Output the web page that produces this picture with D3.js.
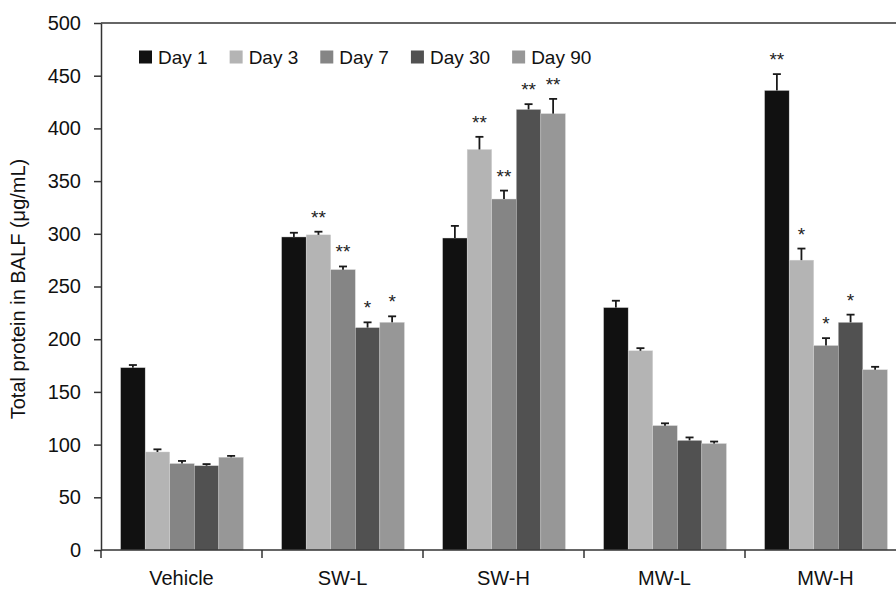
<!DOCTYPE html>
<html>
<head>
<meta charset="utf-8">
<script src="https://cdn.jsdelivr.net/npm/d3@7"></script>
<style>
  html, body { margin: 0; padding: 0; background: #fff; }
  svg { display: block; font-family: "Liberation Sans", Arial, sans-serif; }
</style>
</head>
<body>
<svg id="chart" width="896" height="590"></svg>
<script>
// Groups along the x axis and the sampling days (one series each)
const categories = ["Vehicle", "SW-L", "SW-H", "MW-L", "MW-H"];
const seriesNames = ["Day 1", "Day 3", "Day 7", "Day 30", "Day 90"];
const seriesColors = ["#111111", "#b4b4b4", "#858585", "#515151", "#979797"];

// Mean total protein (µg/mL) per group, one array per day
const day1  = [173, 297, 296, 230, 436];
const day3  = [93, 299, 380, 189, 275];
const day7  = [82, 266, 333, 118, 194];
const day30 = [80, 211, 418, 104, 216];
const day90 = [88, 216, 414, 101, 171];

// Standard errors (upper whisker only)
const err1  = [2.5, 4, 11.5, 6.5, 15.5];
const err3  = [2.5, 3, 12, 2.5, 11];
const err7  = [2.5, 3, 8, 2.2, 7];
const err30 = [1.5, 5, 5, 2.8, 7.3];
const err90 = [1.3, 5.7, 14, 1.9, 2.8];

// Significance markers versus vehicle
const sig1  = ["", "", "", "", "**"];
const sig3  = ["", "**", "**", "", "*"];
const sig7  = ["", "**", "**", "", "*"];
const sig30 = ["", "*", "**", "", "*"];
const sig90 = ["", "*", "**", "", ""];

const yTicks = [0, 50, 100, 150, 200, 250, 300, 350, 400, 450, 500];
const yTitle = "Total protein in BALF (μg/mL)";

const values = [day1, day3, day7, day30, day90];
const errors = [err1, err3, err7, err30, err90];
const sigs = [sig1, sig3, sig7, sig30, sig90];

const svg = d3.select("#chart");
const plotLeft = 101, plotTop = 23, plotBottom = 550, bandW = 161;

const x0 = d3.scaleBand().domain(categories)
  .range([plotLeft, plotLeft + bandW * categories.length]).padding(0);
const x1 = d3.scaleBand().domain(seriesNames)
  .range([19.6, bandW - 18.6]).padding(0);
const y = d3.scaleLinear().domain([0, 500]).range([plotBottom, plotTop]);

const axisColor = "#333";

// Bars
const rows = [];
categories.forEach((c, ci) => {
  seriesNames.forEach((s, si) => {
    rows.push({ cat: c, series: s, si, v: values[si][ci], e: errors[si][ci], sig: sigs[si][ci] });
  });
});

const g = svg.append("g");
g.selectAll("rect.bar").data(rows).enter().append("rect")
  .attr("class", "bar")
  .attr("x", d => x0(d.cat) + x1(d.series))
  .attr("width", x1.bandwidth())
  .attr("y", d => y(d.v))
  .attr("height", d => y(0) - y(d.v))
  .attr("fill", d => seriesColors[d.si])
  .attr("stroke", "#d8d8d8")
  .attr("stroke-width", 0.4);

// Error bars
const eb = g.selectAll("g.err").data(rows).enter().append("g").attr("class", "err")
  .attr("stroke", "#1a1a1a").attr("stroke-width", 1.8);
eb.append("line")
  .attr("x1", d => x0(d.cat) + x1(d.series) + x1.bandwidth() / 2)
  .attr("x2", d => x0(d.cat) + x1(d.series) + x1.bandwidth() / 2)
  .attr("y1", d => y(d.v))
  .attr("y2", d => y(d.v + d.e));
eb.append("line")
  .attr("x1", d => x0(d.cat) + x1(d.series) + x1.bandwidth() / 2 - 4)
  .attr("x2", d => x0(d.cat) + x1(d.series) + x1.bandwidth() / 2 + 4)
  .attr("y1", d => y(d.v + d.e))
  .attr("y2", d => y(d.v + d.e));

// Significance asterisks
g.selectAll("text.sig").data(rows.filter(d => d.sig)).enter().append("text")
  .attr("class", "sig")
  .attr("x", d => x0(d.cat) + x1(d.series) + x1.bandwidth() / 2)
  .attr("y", d => y(d.v + d.e) - 8)
  .attr("text-anchor", "middle")
  .attr("font-size", 19)
  .attr("fill", "#222")
  .text(d => d.sig);

// Top frame line
svg.append("line")
  .attr("x1", plotLeft).attr("x2", 896)
  .attr("y1", plotTop).attr("y2", plotTop)
  .attr("stroke", axisColor).attr("stroke-width", 1.5);

// Y axis
const yAxis = svg.append("g")
  .attr("transform", `translate(${plotLeft},0)`)
  .call(d3.axisLeft(y).tickValues(yTicks).tickSize(7).tickPadding(13).tickSizeOuter(0));
yAxis.select(".domain").attr("stroke", axisColor).attr("stroke-width", 1.5);
yAxis.selectAll(".tick line").attr("stroke", axisColor).attr("stroke-width", 1.5);
yAxis.selectAll(".tick text")
  .attr("font-size", 20).attr("fill", "#111")
  .attr("font-family", "'Liberation Sans', Arial, sans-serif");

// X axis with ticks on the group boundaries
const xAxisG = svg.append("g").attr("transform", `translate(0,${plotBottom})`);
xAxisG.append("line")
  .attr("x1", plotLeft).attr("x2", 896).attr("y1", 0).attr("y2", 0)
  .attr("stroke", axisColor).attr("stroke-width", 1.5);
xAxisG.selectAll("line.bt").data(categories.slice(1)).enter().append("line")
  .attr("class", "bt")
  .attr("x1", d => x0(d)).attr("x2", d => x0(d))
  .attr("y1", 0).attr("y2", 8)
  .attr("stroke", axisColor).attr("stroke-width", 1.5);
xAxisG.append("line")
  .attr("x1", plotLeft).attr("x2", plotLeft).attr("y1", 0).attr("y2", 8)
  .attr("stroke", axisColor).attr("stroke-width", 1.5);
xAxisG.selectAll("text.cat").data(categories).enter().append("text")
  .attr("class", "cat")
  .attr("x", d => x0(d) + x0.bandwidth() / 2)
  .attr("y", 35)
  .attr("text-anchor", "middle")
  .attr("font-size", 20)
  .attr("fill", "#111")
  .text(d => d);

// Y axis title
svg.append("text")
  .attr("transform", "translate(25,289) rotate(-90)")
  .attr("text-anchor", "middle")
  .attr("font-size", 20)
  .attr("fill", "#111")
  .text(yTitle);

// Legend
const legend = svg.append("g");
let lx = 158;
seriesNames.forEach((s, i) => {
  legend.append("rect")
    .attr("x", lx - 19).attr("y", 50.5)
    .attr("width", 13).attr("height", 13)
    .attr("fill", seriesColors[i]);
  const t = legend.append("text")
    .attr("x", lx).attr("y", 64)
    .attr("font-size", 19)
    .attr("fill", "#111")
    .text(s);
  lx += t.node().getComputedTextLength() + 41;
});
</script>
</body>
</html>
